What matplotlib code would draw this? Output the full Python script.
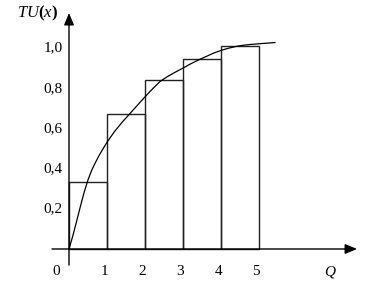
import matplotlib
matplotlib.use("Agg")
import matplotlib.pyplot as plt

# значения
q_bars = [0, 1, 2, 3, 4]
bar_heights = [0.333, 0.673, 0.84, 0.945, 1.01]
x_tick_labels = ["1", "2", "3", "4", "5"]
x_ticks = [1, 2, 3, 4, 5]
y_ticks = [0.2, 0.4, 0.6, 0.8, 1.0]
y_tick_labels = ["0,2", "0,4", "0,6", "0,8", "1,0"]

curve_q = [0, 0.1, 0.2, 0.3, 0.4, 0.5, 0.6, 0.7, 0.8, 0.9, 1.0, 1.2, 1.4, 1.6, 1.8,
           2.0, 2.2, 2.4, 2.6, 2.8, 3.0, 3.2, 3.4, 3.6, 3.8, 4.0, 4.2, 4.4, 4.6,
           4.8, 5.0, 5.2, 5.42]
curve_tu = [0, 0.065, 0.138, 0.212, 0.283, 0.344, 0.393, 0.432, 0.468, 0.500, 0.531,
            0.585, 0.631, 0.673, 0.715, 0.757, 0.797, 0.834, 0.859, 0.880, 0.900,
            0.921, 0.940, 0.957, 0.974, 0.988, 0.999, 1.008, 1.014, 1.018, 1.021,
            1.024, 1.027]

plt.rcParams['font.family'] = ['Liberation Serif', 'DejaVu Serif']
plt.rcParams['mathtext.fontset'] = 'custom'
plt.rcParams['mathtext.rm'] = 'Liberation Serif'
plt.rcParams['mathtext.it'] = 'Liberation Serif:italic'
plt.rcParams['mathtext.bf'] = 'Liberation Serif:bold'

fig = plt.figure(figsize=(3.71, 2.93), dpi=100)
ax = fig.add_axes([0, 0, 1, 1])
ax.axis('off')
# 38 px на единицу Q, 201 px на единицу TU, начало в пикселе (69, 249)
ax.set_xlim(-69 / 38, (371 - 69) / 38)
ax.set_ylim(-(293 - 249) / 201, 249 / 201)

# столбики
ax.bar(q_bars, bar_heights, width=1, align='edge', facecolor='none',
       edgecolor='#222222', linewidth=1.0, zorder=2)

# кривая
ax.plot(curve_q, curve_tu, color='black', linewidth=0.9, zorder=3)

# оси со стрелками
arrow = dict(arrowstyle='-|>,head_length=0.6,head_width=0.25', mutation_scale=12,
             color='black', lw=1.0, shrinkA=0, shrinkB=0)
ax.annotate('', xy=(0, 1.174), xytext=(0, -0.08), arrowprops=arrow, zorder=4)
ax.annotate('', xy=(7.58, 0), xytext=(-0.447, 0), arrowprops=arrow, zorder=4)

fs = 11
for x, lab in zip(x_ticks, x_tick_labels):
    ax.annotate(lab, (x, 0), xytext=(-2, -16.5), textcoords='offset points',
                ha='center', va='center', fontsize=fs)
ax.annotate('0', (0, 0), xytext=(-9.5, -16.5), textcoords='offset points',
            ha='center', va='center', fontsize=fs)
ax.annotate('$Q$', (6.87, 0), xytext=(0, -16.5), textcoords='offset points',
            ha='center', va='center', fontsize=fs)

for y, lab in zip(y_ticks, y_tick_labels):
    ax.annotate(lab, (0, y), xytext=(-4.5, 0), textcoords='offset points',
                ha='right', va='center', fontsize=fs)

ax.annotate(r'$TU\mathbf{(}x\mathbf{)}$', (0, 1.174), xytext=(-8, 0),
            textcoords='offset points', ha='right', va='center', fontsize=12)

fig.savefig('out.png', dpi=100)
